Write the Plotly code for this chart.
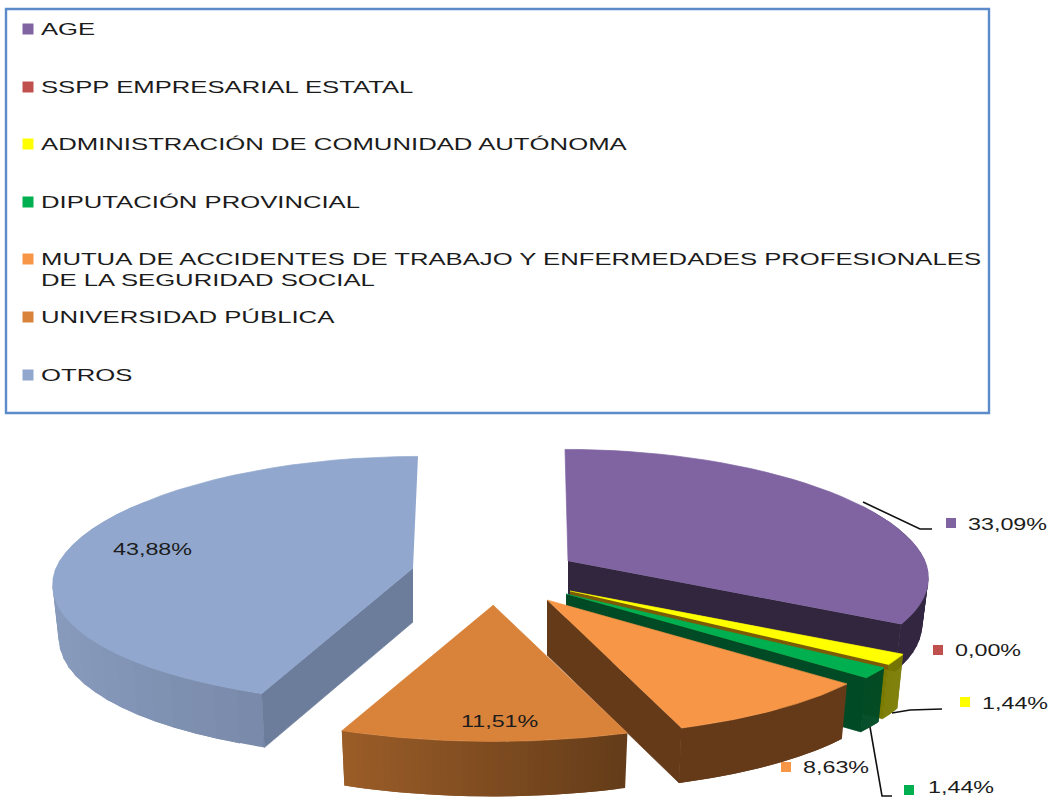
import numpy as np
import plotly.graph_objects as go

# ---- data ----
categories = ["AGE", "SSPP EMPRESARIAL ESTATAL", "ADMINISTRACIÓN DE COMUNIDAD AUTÓNOMA",
              "DIPUTACIÓN PROVINCIAL",
              "MUTUA DE ACCIDENTES DE TRABAJO Y ENFERMEDADES PROFESIONALES<br>DE LA SEGURIDAD SOCIAL",
              "UNIVERSIDAD PÚBLICA", "OTROS"]
shares = [33.09, 0.00, 1.44, 1.44, 8.63, 11.51, 43.88]
share_labels = ["33,09%", "0,00%", "1,44%", "1,44%", "8,63%", "11,51%", "43,88%"]

# ---- style / layout ----
top_colors = ["#8064A2", "#C0504D", "#FFFF00", "#00B050", "#F79646", "#D9823A", "#91A7CE"]
wall_left = [(50, 38, 65), (0, 0, 0), (122, 122, 0), (0, 75, 38), (101, 58, 25), (155, 93, 40), (136, 155, 188)]
wall_right = [(50, 38, 65), (0, 0, 0), (122, 122, 0), (0, 75, 38), (101, 58, 25), (100, 60, 25), (108, 124, 155)]
cut_colors = ["#32263F", None, "#7A7A00", "#004B26", "#653A19", None, "#6C7C9B"]
cut_band = {2: ("#7D5A05", 5)}
apex = [(568, 561), None, (570, 591), (566, 594), (547, 600), (493, 605), (413, 568)]
lean = [-3, 0, 0, 0, 0, 0, 5]
depth = [47, 0, 54, 54, 55, 55, 54]
draw_order = [6, 0, 2, 3, 4, 5]
RX, RY, KX, KY, BOTTOM = 357.0, 124.0, 0.14, 0.10, 0.983

legend_y = [29, 87, 144, 202, 259, 317, 375]
LINE_GAP = 21
label_marker = [(951, 523), (938, 650), (965, 702), (909, 790), (786, 767), None, None]
label_text = [(966, 524), (953, 650), (980, 703), (926, 787), (801, 767), (459, 721), (111, 549)]
leaders = [[(863, 502), (920, 529), (932, 529)],
           [(892, 713), (910, 710), (942, 709)],
           [(870, 727), (882, 796), (892, 796)]]
TXT = "#1c1c1c"
LEG_SIZE, LAB_SIZE = 17, 17
FONT = "Liberation Sans"
STRETCH_LEGEND, STRETCH_LABEL = 1.51, 1.37

fig = go.Figure()


def poly(xs, ys, color, name=None, lw=0.7):
    fig.add_trace(go.Scatter(x=list(xs), y=list(ys), mode="lines", fill="toself", fillcolor=color,
                             line=dict(color=color, width=lw), hoverinfo="skip", name=name, showlegend=False))


def rim(i, t):
    X, Y = np.sin(t), -np.cos(t)
    ax, ay = apex[i]
    return ax + RX * X * (1 + KX * Y) + lean[i] * np.maximum(-Y, 0), ay + RY * Y * (1 + KY * Y)


def low(i, x, y):
    ax, ay = apex[i]
    return ax + (x - ax) * BOTTOM, y + depth[i]


edges = np.concatenate([[0], np.cumsum(shares)]) / sum(shares) * 2 * np.pi

for i in draw_order:
    t0, t1 = edges[i], edges[i + 1]
    ax, ay = apex[i]
    ts = np.linspace(t0, t1, 41)
    rx, ry = rim(i, ts)
    bx, by = low(i, rx, ry)
    # outer wall, split in overlapping bands to give the shaded gradient (back part is hidden)
    xmin, xmax = rx.min(), rx.max()
    for k in range(len(ts) - 1):
        if np.cos(ts[k]) > 0.5:
            continue
        e = min(k + 2, len(ts) - 1)
        f = (0.5 * (rx[k] + rx[k + 1]) - xmin) / max(xmax - xmin, 1)
        c = [round(a + (b - a) * f) for a, b in zip(wall_left[i], wall_right[i])]
        poly([rx[k], rx[e], bx[e], bx[k]], [ry[k], ry[e], by[e], by[k]], "rgb(%d,%d,%d)" % tuple(c), lw=0)
    # radial cut face that faces the viewer
    if cut_colors[i]:
        fx, fy = (rx[0], ry[0]) if i == 6 else (rx[-1], ry[-1])
        lx, ly = low(i, fx, fy)
        poly([ax, fx, lx, ax], [ay, fy, ly, ay + depth[i]], cut_colors[i])
        if i in cut_band:
            col, h = cut_band[i]
            poly([ax, fx, fx, ax], [ay, fy, fy + h, ay + h], col, lw=0)
    # top face
    poly(np.r_[ax, rx], np.r_[ay, ry], top_colors[i], name=categories[i].replace("<br>", " "))

# leader lines
for seg in leaders:
    fig.add_trace(go.Scatter(x=[p[0] for p in seg], y=[p[1] for p in seg], mode="lines",
                             line=dict(color="#111111", width=1.6), hoverinfo="skip", showlegend=False))

# label markers
mk = [i for i, p in enumerate(label_marker) if p]
fig.add_trace(go.Scatter(x=[label_marker[i][0] for i in mk], y=[label_marker[i][1] for i in mk], mode="markers",
                         marker=dict(symbol="square", size=10, color=[top_colors[i] for i in mk], line=dict(width=0)),
                         hoverinfo="skip", showlegend=False))
# legend markers
fig.add_trace(go.Scatter(x=[28] * len(categories), y=legend_y, mode="markers",
                         marker=dict(symbol="square", size=11, color=top_colors, line=dict(width=0)),
                         hoverinfo="skip", showlegend=False))

annotations = []
for name, y in zip(categories, legend_y):
    for j, line in enumerate(name.split("<br>")):
        annotations.append(dict(x=41, y=y + j * LINE_GAP, text=line, xref="x", yref="y", showarrow=False,
                                xanchor="left", yanchor="middle", align="left", xshift=-2,
                                font=dict(family=FONT, size=LEG_SIZE, color=TXT)))
for lab, (x, y) in zip(share_labels, label_text):
    annotations.append(dict(x=x, y=y, text=lab, xref="x", yref="y", showarrow=False, xanchor="left",
                            yanchor="middle", align="left", font=dict(family=FONT, size=LAB_SIZE, color=TXT)))

fig.update_layout(
    width=1051, height=798, autosize=False, margin=dict(l=0, r=0, t=0, b=0),
    paper_bgcolor="white", plot_bgcolor="white", showlegend=False,
    xaxis=dict(range=[0, 1051], visible=False, fixedrange=True),
    yaxis=dict(range=[798, 0], visible=False, fixedrange=True),
    annotations=annotations,
    shapes=[dict(type="rect", x0=6, x1=989, y0=9, y1=413, xref="x", yref="y", layer="below",
                 line=dict(color="#5B8BC9", width=2.4), fillcolor="white")],
)
stretch_js = """
document.body.style.margin='0';document.documentElement.style.overflow='hidden';
document.querySelectorAll('.annotation-text').forEach(function(el){
  var b=el.getBBox();
  var s=el.textContent.indexOf('%%')>=0?%s:%s;
  el.setAttribute('text-anchor','start');
  el.setAttribute('x',b.x);
  el.setAttribute('textLength',b.width*s);
  el.setAttribute('lengthAdjust','spacingAndGlyphs');
});
""" % (STRETCH_LABEL, STRETCH_LEGEND)
fig.write_html("out.html", config={"displayModeBar": False}, post_script=stretch_js)
